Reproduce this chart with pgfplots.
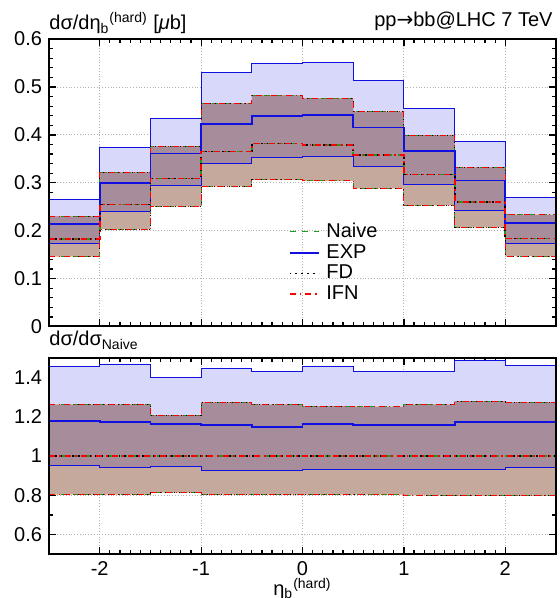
\documentclass[border=0pt]{standalone}
\usepackage{fontspec}
\setmainfont{Liberation Sans}
\newfontfamily\dejavu{DejaVu Sans}
\usepackage{pgfplots}
\pgfplotsset{compat=1.18}
\usepackage{pgfplotstable}
\usepgfplotslibrary{fillbetween}
\definecolor{bandblue}{HTML}{D8D8FA}
\definecolor{bandmauve}{HTML}{A78C9B}
\definecolor{bandtan}{HTML}{C4A99C}
\definecolor{lgreen}{HTML}{1E9A1E}
\definecolor{lblue}{HTML}{1010E0}

% top panel: d sigma / d eta (x = left bin edge, last row repeats last bin)
\pgfplotstableread{
x     eu      ec      el      nu      nc      nl
-2.5  0.2645  0.2144  0.1726  0.2297  0.1824  0.1460
-2.0  0.3745  0.2993  0.2394  0.3216  0.2547  0.2032
-1.5  0.4343  0.3612  0.2937  0.3759  0.3090  0.2506
-1.0  0.5304  0.4225  0.3397  0.4656  0.3654  0.2923
-0.5  0.5485  0.4399  0.3529  0.4823  0.3821  0.3063
 0.0  0.5520  0.4413  0.3550  0.4761  0.3793  0.3042
 0.5  0.5144  0.4155  0.3348  0.4483  0.3578  0.2882
 1.0  0.4552  0.3668  0.2958  0.3995  0.3174  0.2527
 1.5  0.3863  0.3049  0.2429  0.3320  0.2596  0.2067
 2.0  0.2687  0.2158  0.1726  0.2332  0.1838  0.1469
 2.5  0.2687  0.2158  0.1726  0.2332  0.1838  0.1469
}\toptab

% bottom panel: ratio to Naive
\pgfplotstableread{
x     eu     ec     el     nu     nc    nl
-2.5  1.454  1.179  0.950  1.261  1.0   0.804
-2.0  1.468  1.171  0.940  1.261  1.0   0.804
-1.5  1.398  1.164  0.947  1.208  1.0   0.814
-1.0  1.446  1.157  0.926  1.273  1.0   0.804
-0.5  1.431  1.149  0.924  1.261  1.0   0.804
 0.0  1.454  1.164  0.933  1.254  1.0   0.804
 0.5  1.432  1.157  0.933  1.250  1.0   0.804
 1.0  1.432  1.157  0.933  1.261  1.0   0.800
 1.5  1.487  1.171  0.933  1.279  1.0   0.797
 2.0  1.459  1.174  0.943  1.273  1.0   0.797
 2.5  1.459  1.174  0.943  1.273  1.0   0.797
}\bottab

\pgfplotsset{
  panel/.style={
    scale only axis, width=253.5pt, anchor=south west,
    xmin=-2.5, xmax=2.5, clip mode=individual,
    xtick={-2,-1,0,1,2}, minor x tick num=9,
    tick align=inside, major tick length=3.5pt, minor tick length=2pt,
    tick style={black, line width=0.6pt},
    axis line style={line width=1pt},
    grid=major, grid style={densely dotted, gray!60, line width=0.5pt},
    tick label style={font=\fontsize{10}{12}\selectfont},
    /pgf/number format/assume math mode=true,
    axis on top=false,
    legend image code/.code={\draw[#1] (0pt,0pt) -- (14.5pt,0pt);},
  },
  edge/.style={const plot, forget plot, line width=0.45pt},
  cen/.style={const plot, line width=0.9pt},
}

\newcommand{\drawpanel}[1]{%
  \addplot[edge, draw=none, name path=eu] table[x=x,y=eu] {#1};
  \addplot[edge, draw=none, name path=el] table[x=x,y=el] {#1};
  \addplot[edge, draw=none, name path=nu] table[x=x,y=nu] {#1};
  \addplot[edge, draw=none, name path=nl] table[x=x,y=nl] {#1};
  \addplot[fill=bandblue, draw=none, forget plot] fill between[of=eu and el];
  \addplot[fill=bandtan, draw=none, forget plot] fill between[of=nu and nl];
  \addplot[fill=bandmauve, draw=none, forget plot] fill between[of=nu and el];
  \addplot[edge, lblue] table[x=x,y=eu] {#1};
  \addplot[edge, lblue] table[x=x,y=el] {#1};
  \addplot[edge, lgreen, dashed] table[x=x,y=nu] {#1};
  \addplot[edge, black, dotted] table[x=x,y=nu] {#1};
  \addplot[edge, red, dash dot] table[x=x,y=nu] {#1};
  \addplot[edge, lgreen, dashed] table[x=x,y=nl] {#1};
  \addplot[edge, black, dotted] table[x=x,y=nl] {#1};
  \addplot[edge, red, dash dot] table[x=x,y=nl] {#1};
  \addplot[cen, lgreen, dashed] table[x=x,y=nc] {#1};
  \addplot[cen, lblue, solid] table[x=x,y=ec] {#1};
  \addplot[cen, black, dotted] table[x=x,y=nc] {#1};
  \addplot[cen, red, dash dot] table[x=x,y=nc] {#1};
}

\begin{document}
\fontsize{10}{12}\selectfont
\begin{tikzpicture}
\begin{axis}[panel,
  at={(24.5pt,135.75pt)}, height=143.7pt,
  ymin=0, ymax=0.6, ytick={0,0.1,0.2,0.3,0.4,0.5,0.6}, minor y tick num=4,
  xticklabels={},
  legend entries={Naive,EXP,FD,IFN},
  legend cell align=left,
  legend style={at={(0.46,0.39)}, anchor=north west, draw=none, fill=none,
    font=\fontsize{10}{12}\selectfont, row sep=-2pt,
    /tikz/every odd column/.append style={column sep=1.5pt}},
]
\drawpanel{\toptab}
\draw[line width=1pt] (rel axis cs:0,0) rectangle (rel axis cs:1,1);
\node[anchor=base west, inner sep=0pt] at (rel axis cs:0,1.032)
  {dσ/dη\textsubscript{b}\textsuperscript{(hard)} [\textit{μ}b]};
\node[anchor=base east, inner sep=0pt] at (rel axis cs:0.994,1.045)
  {pp{\dejavu →}bb@LHC 7 TeV};
\end{axis}

\begin{axis}[panel,
  at={(24.5pt,21.85pt)}, height=98.3pt,
  ymin=0.5, ymax=1.5, ytick={0.6,0.8,1,1.2,1.4}, minor y tick num=1,
  xlabel={η\textsubscript{b}\textsuperscript{(hard)}},
  xlabel style={font=\fontsize{10}{12}\selectfont, yshift=5.5pt},
]
\drawpanel{\bottab}
\draw[line width=1pt] (rel axis cs:0,0) rectangle (rel axis cs:1,1);
\node[anchor=base west, inner sep=0pt] at (rel axis cs:0,1.06)
  {dσ/dσ\textsubscript{Naive}};
\end{axis}
\pgfresetboundingbox
\path[use as bounding box] (0,0) rectangle (279.5pt,299pt);
\end{tikzpicture}
\end{document}
